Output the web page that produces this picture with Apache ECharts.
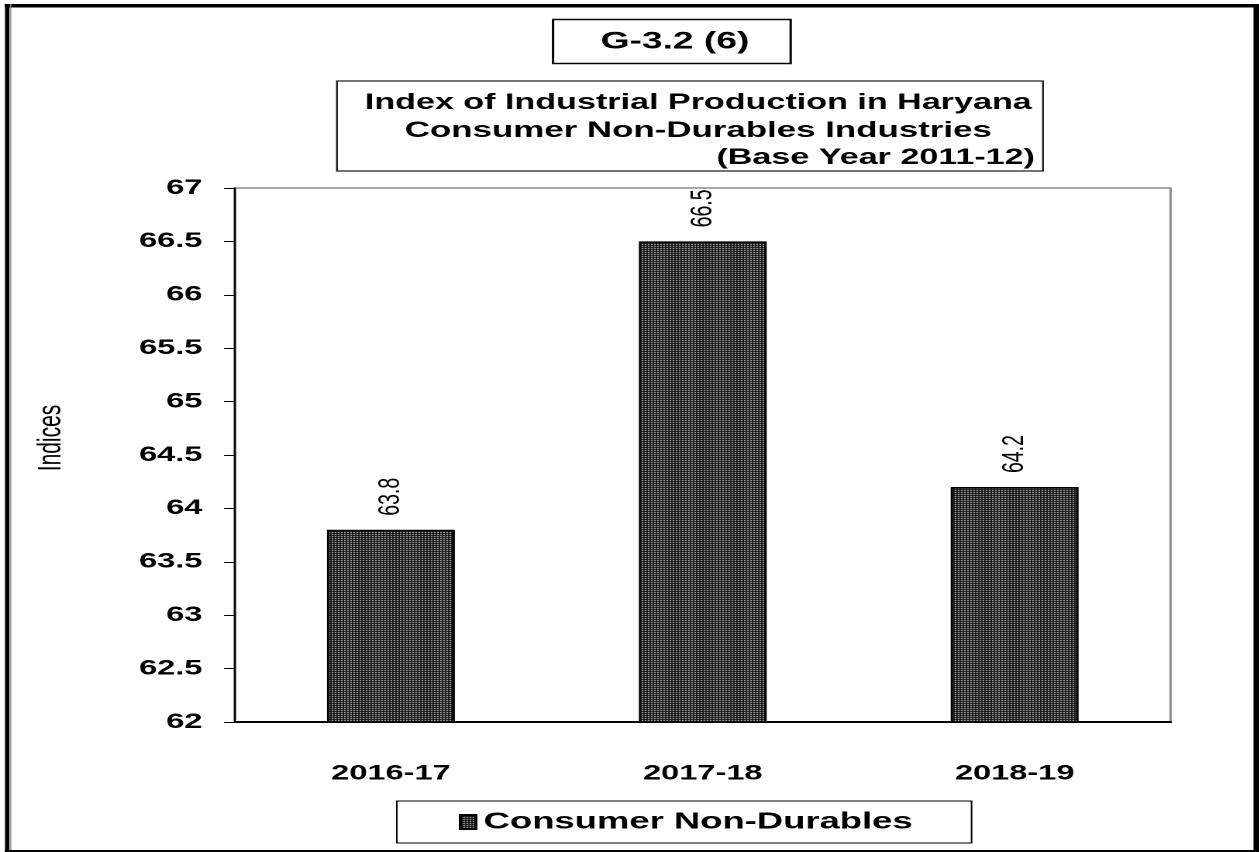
<!DOCTYPE html>
<html>
<head>
<meta charset="utf-8">
<title>G-3.2 (6)</title>
<script src="https://cdn.jsdelivr.net/npm/echarts@6/dist/echarts.min.js"></script>
<style>
	html, body { margin: 0; padding: 0; background: #fff; overflow: hidden; }
	/* the source picture is a horizontally stretched Excel chart, so the chart is laid out narrow and widened */
	#main { width: 812.26px; height: 852px; transform: scaleX(1.55); transform-origin: 0 0; }
</style>
</head>
<body>
<div id="main"></div>
<script>
// data
const categories = ['2016-17', '2017-18', '2018-19']
const indexValues = [63.8, 66.5, 64.2]
const seriesName = 'Consumer Non-Durables'
const titleLines = ['Index of Industrial Production in Haryana', 'Consumer Non-Durables Industries', '(Base Year 2011-12)']

const FONT = '"Liberation Sans", Arial, sans-serif'

// dotted fill like the Excel pattern
const pat = document.createElement('canvas')
pat.width = 2
pat.height = 2
const pctx = pat.getContext('2d')
pctx.fillStyle = '#000'
pctx.fillRect(0, 0, 2, 2)
pctx.fillStyle = '#fff'
pctx.fillRect(0, 0, 1, 1)
const barFill = { image: pat, repeat: 'repeat' }

const myChart = echarts.init(document.getElementById('main'), null, { devicePixelRatio: 2 })

myChart.setOption({
	animation: false,
	backgroundColor: '#fff',
	grid: {
		left: 151.6,
		right: 56.8,
		top: 188,
		bottom: 130,
		show: true,
		borderColor: '#8c8c8c',
		borderWidth: 1.5
	},
	legend: {
		data: [{ name: seriesName, icon: 'rect' }],
		left: 256,
		top: 801,
		padding: [9, 38, 9, 40],
		itemWidth: 10,
		itemHeight: 14,
		borderColor: '#000',
		borderWidth: 1,
		textStyle: { fontFamily: FONT, fontWeight: 'bold', fontSize: 23.5, color: '#000' }
	},
	xAxis: {
		type: 'category',
		data: categories,
		axisLine: { lineStyle: { color: '#000', width: 2 } },
		axisTick: { length: 7, lineStyle: { color: '#000', width: 1 } },
		axisLabel: { margin: 41, color: '#000', fontFamily: FONT, fontWeight: 'bold', fontSize: 21 }
	},
	yAxis: {
		type: 'value',
		min: 62,
		max: 67,
		interval: 0.5,
		axisLine: { show: true, lineStyle: { color: '#000', width: 1.3 } },
		axisTick: { show: true, length: 7, lineStyle: { color: '#000', width: 1 } },
		axisLabel: { margin: 21, color: '#000', fontFamily: FONT, fontWeight: 'bold', fontSize: 21 },
		splitLine: { show: false }
	},
	series: [
		{
			name: seriesName,
			type: 'bar',
			barWidth: '41%',
			data: indexValues,
			itemStyle: { color: barFill, borderColor: '#000', borderWidth: 1.5 },
			label: {
				show: true,
				position: 'top',
				rotate: 90,
				align: 'left',
				verticalAlign: 'middle',
				distance: 14,
				color: '#000',
				fontFamily: FONT,
				fontSize: 19.5
			}
		}
	],
	graphic: [
		// outer frame
		{ type: 'rect', shape: { x: 3, y: 4, width: 809.3, height: 3.5 }, style: { fill: '#000' } },
		{ type: 'rect', shape: { x: 3.2, y: 4, width: 2.9, height: 848 }, style: { fill: '#000' } },
		{ type: 'rect', shape: { x: 6.6, y: 4, width: 0.7, height: 848 }, style: { fill: '#888' } },
		{ type: 'rect', shape: { x: 808.7, y: 4, width: 3.6, height: 848 }, style: { fill: '#000' } },
		{ type: 'rect', shape: { x: 3, y: 850, width: 809.3, height: 2 }, style: { fill: '#000' } },
		// chart number box
		{ type: 'rect', shape: { x: 356.8, y: 19.5, width: 153.3, height: 44 }, style: { fill: 'none', stroke: '#000', lineWidth: 1.5 } },
		{ type: 'text', x: 435.5, y: 42, style: { text: 'G-3.2 (6)', align: 'center', verticalAlign: 'middle', font: 'bold 24px ' + FONT, fill: '#000' } },
		// title box
		{ type: 'rect', shape: { x: 217.4, y: 81, width: 455.5, height: 90 }, style: { fill: 'none', stroke: '#222', lineWidth: 1.2 } },
		{ type: 'text', x: 450.5, y: 103, style: { text: titleLines[0], align: 'center', verticalAlign: 'middle', font: 'bold 22px ' + FONT, fill: '#000' } },
		{ type: 'text', x: 450.5, y: 131, style: { text: titleLines[1], align: 'center', verticalAlign: 'middle', font: 'bold 22.5px ' + FONT, fill: '#000' } },
		{ type: 'text', x: 667.7, y: 158, style: { text: titleLines[2], align: 'right', verticalAlign: 'middle', font: 'bold 22px ' + FONT, fill: '#000' } },
		// y axis title
		{ type: 'text', x: 33, y: 438, rotation: Math.PI / 2, style: { text: 'Indices', align: 'center', verticalAlign: 'middle', font: '21px ' + FONT, fill: '#000' } }
	]
})
</script>
</body>
</html>
